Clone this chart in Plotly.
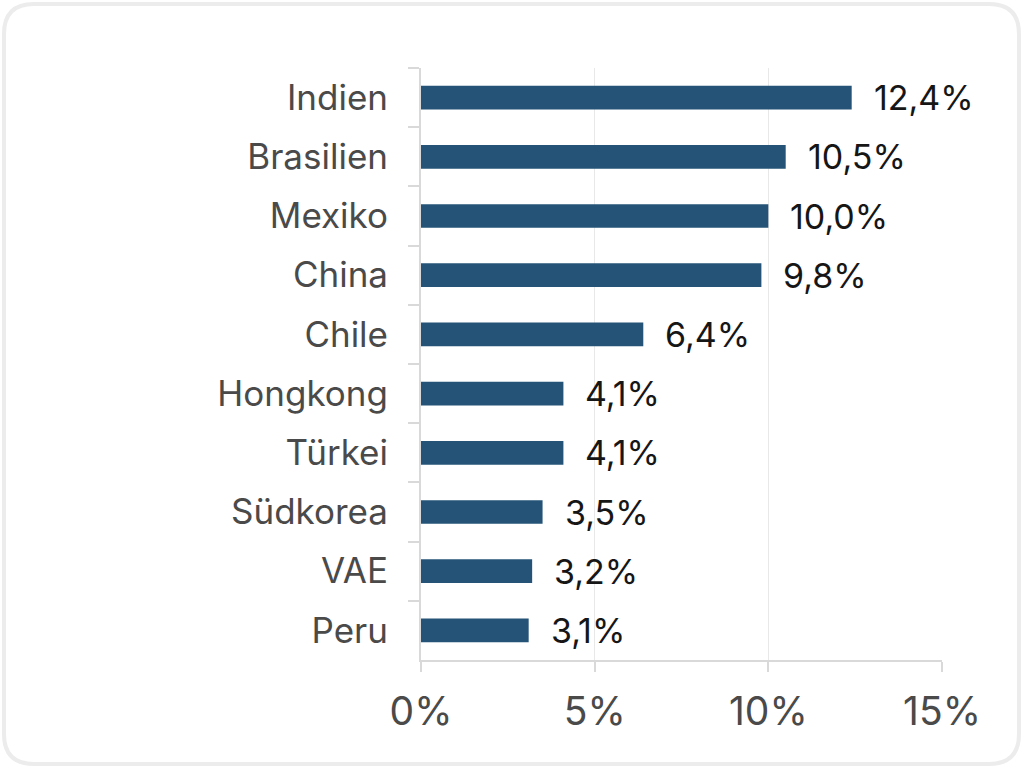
import plotly.graph_objects as go

categories = ["Indien", "Brasilien", "Mexiko", "China", "Chile", "Hongkong", "Türkei", "Südkorea", "VAE", "Peru"]
values = [12.4, 10.5, 10.0, 9.8, 6.4, 4.1, 4.1, 3.5, 3.2, 3.1]
labels = ["12,4%", "10,5%", "10,0%", "9,8%", "6,4%", "4,1%", "4,1%", "3,5%", "3,2%", "3,1%"]
x_ticks = [0, 5, 10, 15]
x_ticklabels = ["0%", "5%", "10%", "15%"]

BAR = "#255377"
GRID = "#e8e8e8"
AXIS = "#d9d9d9"

fig = go.Figure(go.Bar(
    y=categories, x=values, orientation="h",
    marker=dict(color=BAR, line=dict(width=0)),
    width=0.4, hoverinfo="skip",
))

for c, v, t in zip(categories, values, labels):
    fig.add_annotation(x=v, y=c, text=t, showarrow=False, xanchor="left",
                       xshift=20, font=dict(family="Inter", size=34, color="#161616"))

L, R, T, B = 421, 82, 68, 108
pw, ph = 1024 - L - R, 768 - T - B

def px2x(p):
    return (p - L) / pw

def py2y(p):
    return (768 - B - p) / ph

x0, x1 = px2x(4), px2x(1019)
y0, y1 = py2y(764), py2y(4)
rx, ry = 30 / pw, 30 / ph
path = (f"M {x0+rx} {y1} L {x1-rx} {y1} Q {x1} {y1} {x1} {y1-ry} "
        f"L {x1} {y0+ry} Q {x1} {y0} {x1-rx} {y0} L {x0+rx} {y0} "
        f"Q {x0} {y0} {x0} {y0+ry} L {x0} {y1-ry} Q {x0} {y1} {x0+rx} {y1} Z")
fig.add_shape(type="path", path=path, xref="paper", yref="paper",
              line=dict(color="#ececec", width=4), layer="below")

fig.update_layout(
    width=1024, height=768,
    margin=dict(l=L, r=R, t=T, b=B),
    paper_bgcolor="white", plot_bgcolor="white",
    showlegend=False,
    xaxis=dict(range=[0, 15], tickvals=x_ticks, ticktext=x_ticklabels,
               showgrid=True, gridcolor=GRID, gridwidth=1,
               showline=True, linecolor=AXIS, linewidth=2,
               ticks="outside", ticklen=10, tickcolor=AXIS, tickwidth=2,
               ticklabelstandoff=6,
               tickfont=dict(family="Inter", size=39, color="#4a4a4a"),
               zeroline=False, fixedrange=True),
    yaxis=dict(categoryorder="array", categoryarray=categories, autorange="reversed",
               showline=True, linecolor=AXIS, linewidth=2,
               ticks="outside", ticklen=11, tickcolor=AXIS, tickwidth=2,
               tickson="boundaries", ticklabelstandoff=24,
               tickfont=dict(family="Inter", size=35, color="#4a4a4a"),
               showgrid=False, zeroline=False, fixedrange=True),
)

fig.write_html("out.html", config={"displayModeBar": False},
               post_script="document.body.style.margin='0';document.body.style.overflow='hidden';")
